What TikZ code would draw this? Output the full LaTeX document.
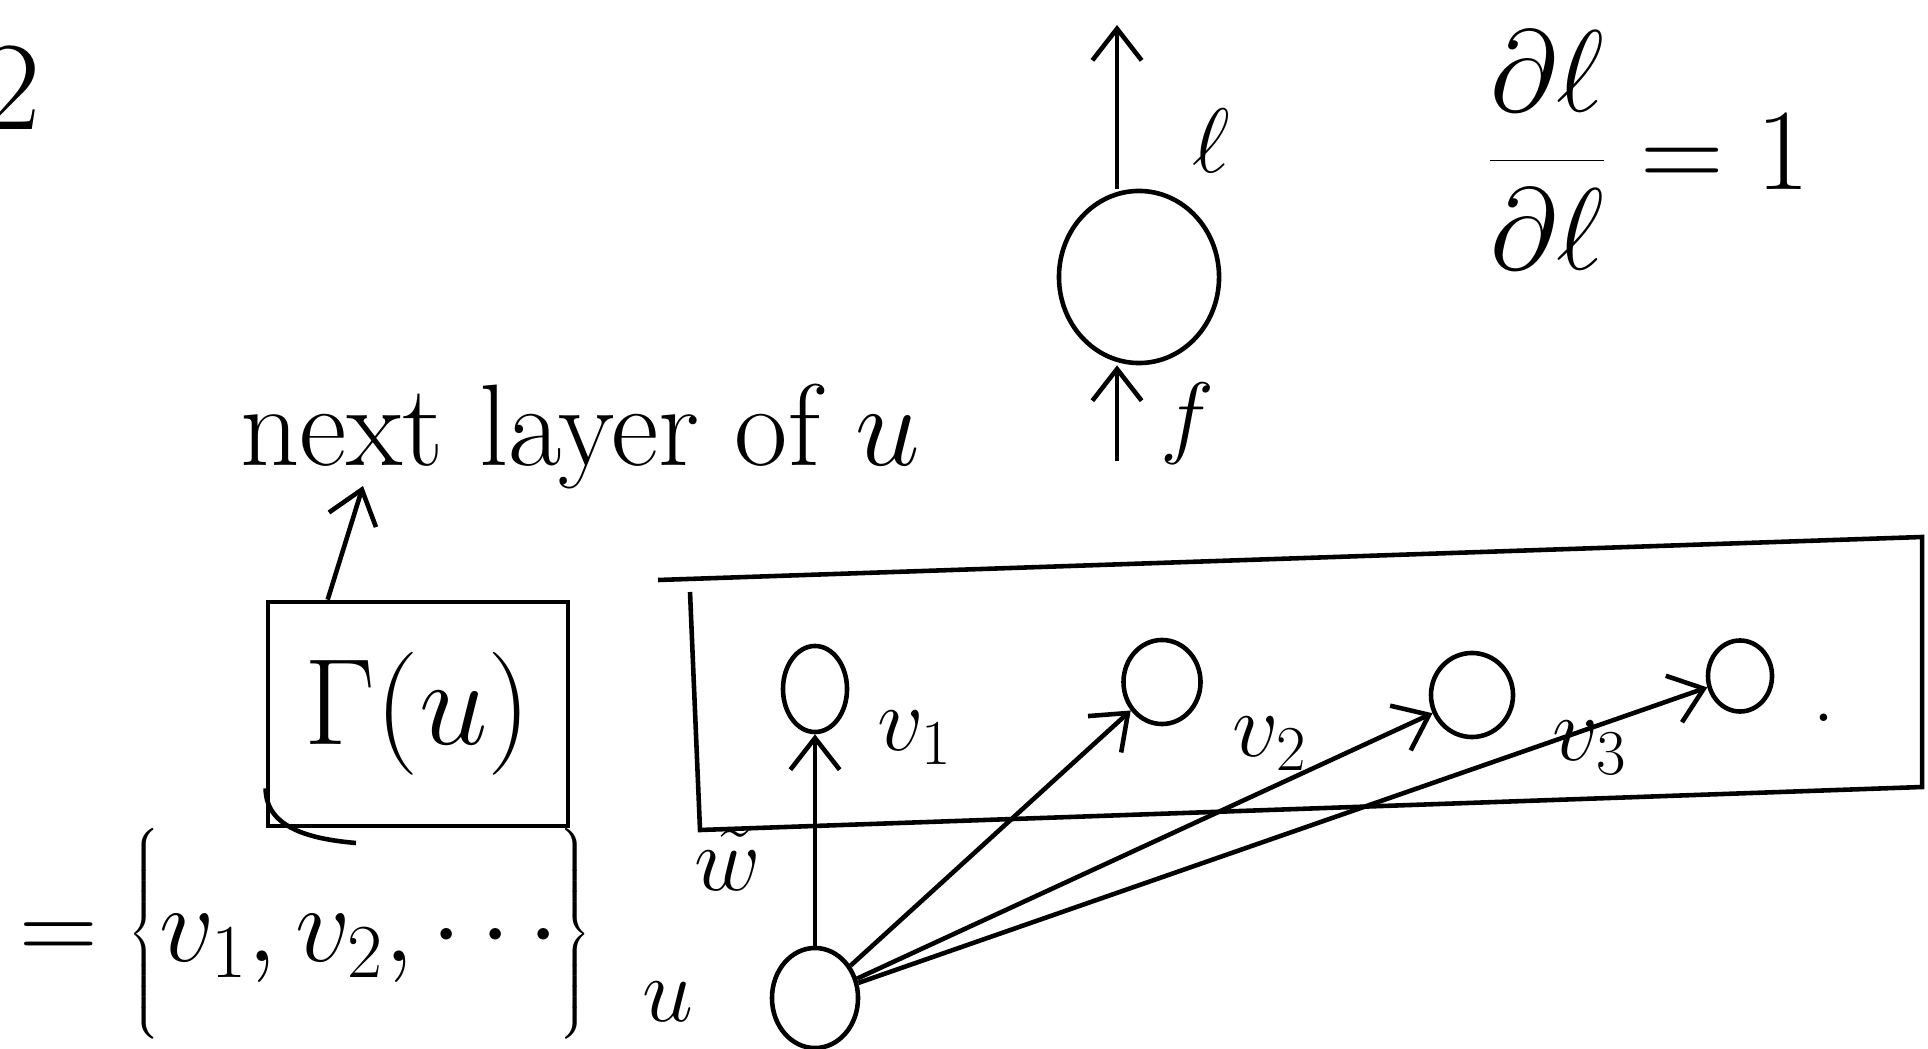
\documentclass[tikz,border=0pt]{standalone}
\usepackage{fix-cm}
\usetikzlibrary{positioning, arrows.meta, shapes.geometric}
\begin{document}
\begin{tikzpicture}[
      x=0.01cm, y=-0.01cm,
      line width=1.3pt,
      unit/.style={ellipse, draw, inner sep=0pt, minimum width=0.75cm,
      minimum height=0.85cm},
      lbl/.style={font=\fontsize{26}{32}\selectfont, inner sep=1pt},
      arr/.style={-{Straight Barb[length=9pt,width=14pt]}}
    ]
    \useasboundingbox (0,0) rectangle (1928,1049);

    % cut-off mark at the left edge
    \node[lbl, font=\fontsize{36}{42}\selectfont] (cut) at (12,88) {2};

    % node f with its loss
    \node[ellipse, draw, minimum width=1.6cm, minimum height=1.72cm] (g) at (1139,277) {};
    \coordinate (ltop) at (1117,25);
    \coordinate (fbot) at (1117,461);
    \draw[arr] (g.north -| ltop) -- (ltop);
    \draw[arr] (fbot) -- (g.south -| fbot);
    \node[lbl] (ell) at (1211,141) {$\ell$};
    \node[lbl] (f) at (1187,424) {$f$};
    \node[lbl, font=\fontsize{33}{40}\selectfont] (dl) at (1648,150)
    {$\displaystyle\frac{\partial\ell}{\partial\ell}=1$};

    % Gamma(u) box
    \node[lbl, font=\fontsize{33}{40}\selectfont] (next) at (580,437) {next layer of $u$};
    \coordinate (nexttip) at (363,486);
    \node[draw, lbl, font=\fontsize{35}{42}\selectfont, minimum width=3cm,
    minimum height=2.24cm] (gam) at (418,714) {$\Gamma(u)$};
    \draw[arr] ([xshift=0.62cm]gam.north west) -- (nexttip);
    \coordinate (curl) at (356,843);
    \draw ([yshift=0.4cm]gam.south west) to[out=-90, in=175] (curl);
    \node[lbl, font=\fontsize{31}{36}\selectfont] (set) at (305,935)
    {$=\left\{\rule[-0.8cm]{0pt}{1.75cm}v_1, v_2, \cdots\right\}$};

    % layer box
    \draw (658,580) -- (1922,537) -- (1922,787) -- (700,830) -- (690,592);
    \node[lbl] (w) at (728,860) {$\tilde w$};

    % units of the layer
    \node[unit, minimum width=0.64cm, minimum height=0.86cm] (v1) at (815,689) {};
    \node[unit, minimum width=0.77cm, minimum height=0.84cm] (v2) at (1162,682) {};
    \node[unit, minimum width=0.82cm, minimum height=0.84cm] (v3) at (1472,695) {};
    \node[unit, minimum width=0.64cm, minimum height=0.71cm] (v4) at (1740,676) {};
    \node[lbl] (v1l) at (915,738) {$v_1$};
    \node[lbl] (v2l) at (1270,744) {$v_2$};
    \node[lbl] (v3l) at (1590,748) {$v_3$};
    \node[lbl] (dot) at (1824,718) {.};

    % unit u and its edges
    \node[unit, minimum width=0.86cm, minimum height=1cm] (u) at (815,998) {};
    \node[lbl] (ul) at (668,1002) {$u$};
    \foreach \v in {v1, v2, v3, v4}
      \draw[arr] (u) -- (\v);

  \end{tikzpicture}
\end{document}
